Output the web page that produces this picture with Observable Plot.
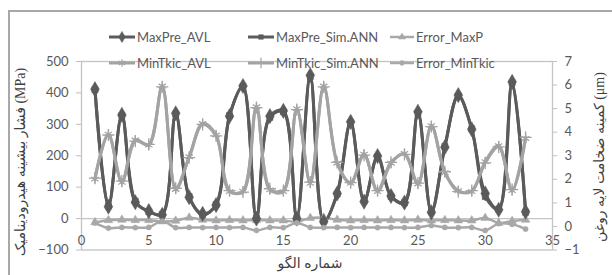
<!DOCTYPE html>
<html><head><meta charset="utf-8">
<script src="https://cdn.jsdelivr.net/npm/d3@7"></script>
<script src="https://cdn.jsdelivr.net/npm/@observablehq/plot@0.6"></script>
<style>
body{margin:0;background:#fff;}
#wrap{position:relative;width:612px;height:275px;overflow:hidden;background:#fff;}
#outer{position:absolute;left:8px;top:10px;width:700px;height:400px;border:2px solid #a8a8a8;box-sizing:border-box;pointer-events:none;}
.lg{position:absolute;display:flex;align-items:center;font:13px Lato,"Open Sans",sans-serif;color:#595959;white-space:nowrap;}
.lg svg{margin-right:2px;}
.ttl{position:absolute;white-space:nowrap;font:14px "Liberation Serif","DejaVu Sans",serif;color:#404040;transform:translate(-50%,-50%);}
.rot{transform:translate(-50%,-50%) rotate(-90deg);}
</style></head><body><div id="wrap"></div>
<script>
// ---- data ----
const patternNo = [1,2,3,4,5,6,7,8,9,10,11,12,13,14,15,16,17,18,19,20,21,22,23,24,25,26,27,28,29,30,31,32,33];
// Max hydrodynamic pressure (MPa), left axis
const maxPreAVL = [412,38,330,52,24,12,335,68,15,43,326,422,0,326,343,0,456,-10,80,308,54,199,72,51,340,20,227,393,284,80,28,435,22];
const maxPreANN = [410,40,328,55,22,14,333,70,12,45,328,420,2,322,340,3,452,-8,78,305,56,196,70,50,336,22,230,390,286,70,30,432,20];
const errorMaxP = [-12,-5,-4,-5,-5,-9,-7,3,-4,-6,-5,-6,-5,-6,-6,-10,2,3,-4,-6,-5,-6,-5,-6,-4,-6,-5,-6,-6,2,-14,-8,-4];
// Minimum oil film thickness (um), right axis
const minTkicAVL = [2.01,3.92,1.87,3.67,3.45,5.96,1.57,2.96,4.37,3.88,1.48,1.50,5.08,1.55,1.48,5.00,1.83,5.96,2.68,1.83,3.07,1.48,2.68,3.10,1.80,4.28,2.28,1.52,1.48,2.75,3.43,1.52,3.73];
const minTkicANN = [2.05,3.88,1.92,3.62,3.48,5.92,1.62,2.92,4.33,3.84,1.52,1.46,5.04,1.60,1.52,4.96,1.88,5.92,2.72,1.86,3.03,1.52,2.72,3.06,1.84,4.24,2.32,1.48,1.52,2.70,3.38,1.56,3.78];
const errorMinTkic = [0.15,-0.07,-0.04,-0.05,-0.04,0.23,-0.05,-0.04,-0.05,-0.04,-0.05,-0.04,-0.17,-0.04,-0.05,0.15,-0.04,-0.05,-0.04,-0.05,-0.04,-0.05,-0.04,-0.05,-0.04,0.04,-0.04,-0.05,-0.04,-0.17,0.12,0.09,-0.11];

const xTicks = [0,5,10,15,20,25,30,35];
const leftTicks = [-100,0,100,200,300,400,500];
const rightTicks = [-1,0,1,2,3,4,5,6,7];

const seriesNames = ["MaxPre_AVL","MaxPre_Sim.ANN","Error_MaxP","MinTkic_AVL","MinTkic_Sim.ANN","Error_MinTkic"];
const xTitle = "شماره الگو";
const yLeftTitle = "فشار بیشینه هیدرودینامیک (MPa)";
const yRightTitle = "کمینه ضخامت لایه روغن (μm)";

// secondary axis -> primary axis mapping
const sec = d3.scaleLinear().domain([-1,7]).range([-100,500]);

const dark = "#5b5b5b", light = "#a3a3a3", err = "#a8a8a8";
const style = [
  {name:seriesNames[0], vals:maxPreAVL, axis:"L", color:dark, sw:3, sym:"diamond", r:4.6, fill:true, lr:3.4},
  {name:seriesNames[1], vals:maxPreANN, axis:"L", color:dark, sw:3, sym:"square", r:3.4, fill:true, lr:2.6},
  {name:seriesNames[2], vals:errorMaxP, axis:"L", color:err, sw:2.5, sym:"triangle", r:3.2, fill:true, lr:2.6},
  {name:seriesNames[3], vals:minTkicAVL, axis:"R", color:light, sw:3, sym:"asterisk", r:4, fill:false, lr:3.2},
  {name:seriesNames[4], vals:minTkicANN, axis:"R", color:light, sw:3, sym:"plus", r:4, fill:false, lr:3.2},
  {name:seriesNames[5], vals:errorMinTkic, axis:"R", color:err, sw:2.5, sym:"circle", r:2.6, fill:true, lr:2.4}
];

const rows = [];
for (const s of style) patternNo.forEach((p,i) => rows.push({series:s.name, x:p, y: s.axis==="L" ? s.vals[i] : sec(s.vals[i])}));

const lineMarks = [], dotMarks = [];
for (const s of style) {
  const d = rows.filter(r => r.series === s.name);
  lineMarks.push(Plot.line(d, {x:"x", y:"y", stroke:s.color, strokeWidth:s.sw, curve:"catmull-rom"}));
  dotMarks.push(Plot.dot(d, {x:"x", y:"y", symbol:()=>s.sym, r:s.r,
    fill: s.fill ? s.color : "none", stroke:s.color, strokeWidth: s.fill ? 0.5 : 1.3}));
}
// draw order: primary series, then secondary on top
const order = [2,0,1,5,3,4];

const chart = Plot.plot({
  width:612, height:275,
  marginLeft:81, marginRight:60, marginTop:61, marginBottom:25.5,
  x:{domain:[0,35]},
  y:{domain:[-100,500]},
  style:{fontFamily:"Lato, 'Open Sans', sans-serif", fontSize:"13px", color:"#595959", background:"transparent"},
  marks:[
    Plot.frame({stroke:"#c4c4c4", strokeWidth:1.3}),
    Plot.ruleY([0], {stroke:"#c4c4c4", strokeWidth:1.3}),
    Plot.axisY(leftTicks, {anchor:"left", tickSize:5, tickPadding:8, stroke:"#bfbfbf", label:null}),
    Plot.axisY(rightTicks.map(sec), {anchor:"right", tickSize:4, tickPadding:8, stroke:"#bfbfbf", label:null,
      tickFormat: d => d3.format("d")(Math.round(sec.invert(d)))}),
    Plot.axisX(xTicks, {anchor:"bottom", tickSize:0, tickPadding:3, dy:-17, label:null}),
    ...order.map(i => lineMarks[i]),
    ...order.map(i => dotMarks[i])
  ]
});

const wrap = document.getElementById("wrap");
wrap.appendChild(chart);
chart.style.position = "absolute"; chart.style.left = "0"; chart.style.top = "0";

const outer = document.createElement("div"); outer.id = "outer"; wrap.appendChild(outer);

// legend
const legendPos = [[109,37],[248,37],[390,37],[109,63],[248,63],[390,63]];
const symMap = {diamond:d3.symbolDiamond, square:d3.symbolSquare, triangle:d3.symbolTriangle,
  asterisk:d3.symbolAsterisk, plus:d3.symbolPlus, circle:d3.symbolCircle};
style.forEach((s,i) => {
  const el = document.createElement("div"); el.className = "lg";
  el.style.left = legendPos[i][0] + "px"; el.style.top = (legendPos[i][1]-9) + "px";
  const w = i % 3 === 2 ? 24 : 26;
  const sz = Math.PI * s.lr * s.lr;
  const path = d3.symbol(symMap[s.sym], s.fill ? sz : sz*1.2)();
  el.innerHTML = `<svg width="${w}" height="18"><line x1="0" x2="${w}" y1="9" y2="9" stroke="${s.color}" stroke-width="${s.sw}"/>`+
    `<path transform="translate(${w/2},9)" d="${path}" fill="${s.fill?s.color:"none"}" stroke="${s.color}" stroke-width="${s.fill?0.5:1.2}"/></svg>`+
    `<span>${s.name}</span>`;
  wrap.appendChild(el);
});

// titles
function addTitle(text, x, y, rot) {
  const el = document.createElement("div"); el.className = "ttl" + (rot ? " rot" : "");
  el.textContent = text; el.style.left = x + "px"; el.style.top = y + "px";
  wrap.appendChild(el);
}
addTitle(xTitle, 310, 263, false);
addTitle(yLeftTitle, 20, 162, true);
addTitle(yRightTitle, 599, 157, true);
</script>
</body></html>
